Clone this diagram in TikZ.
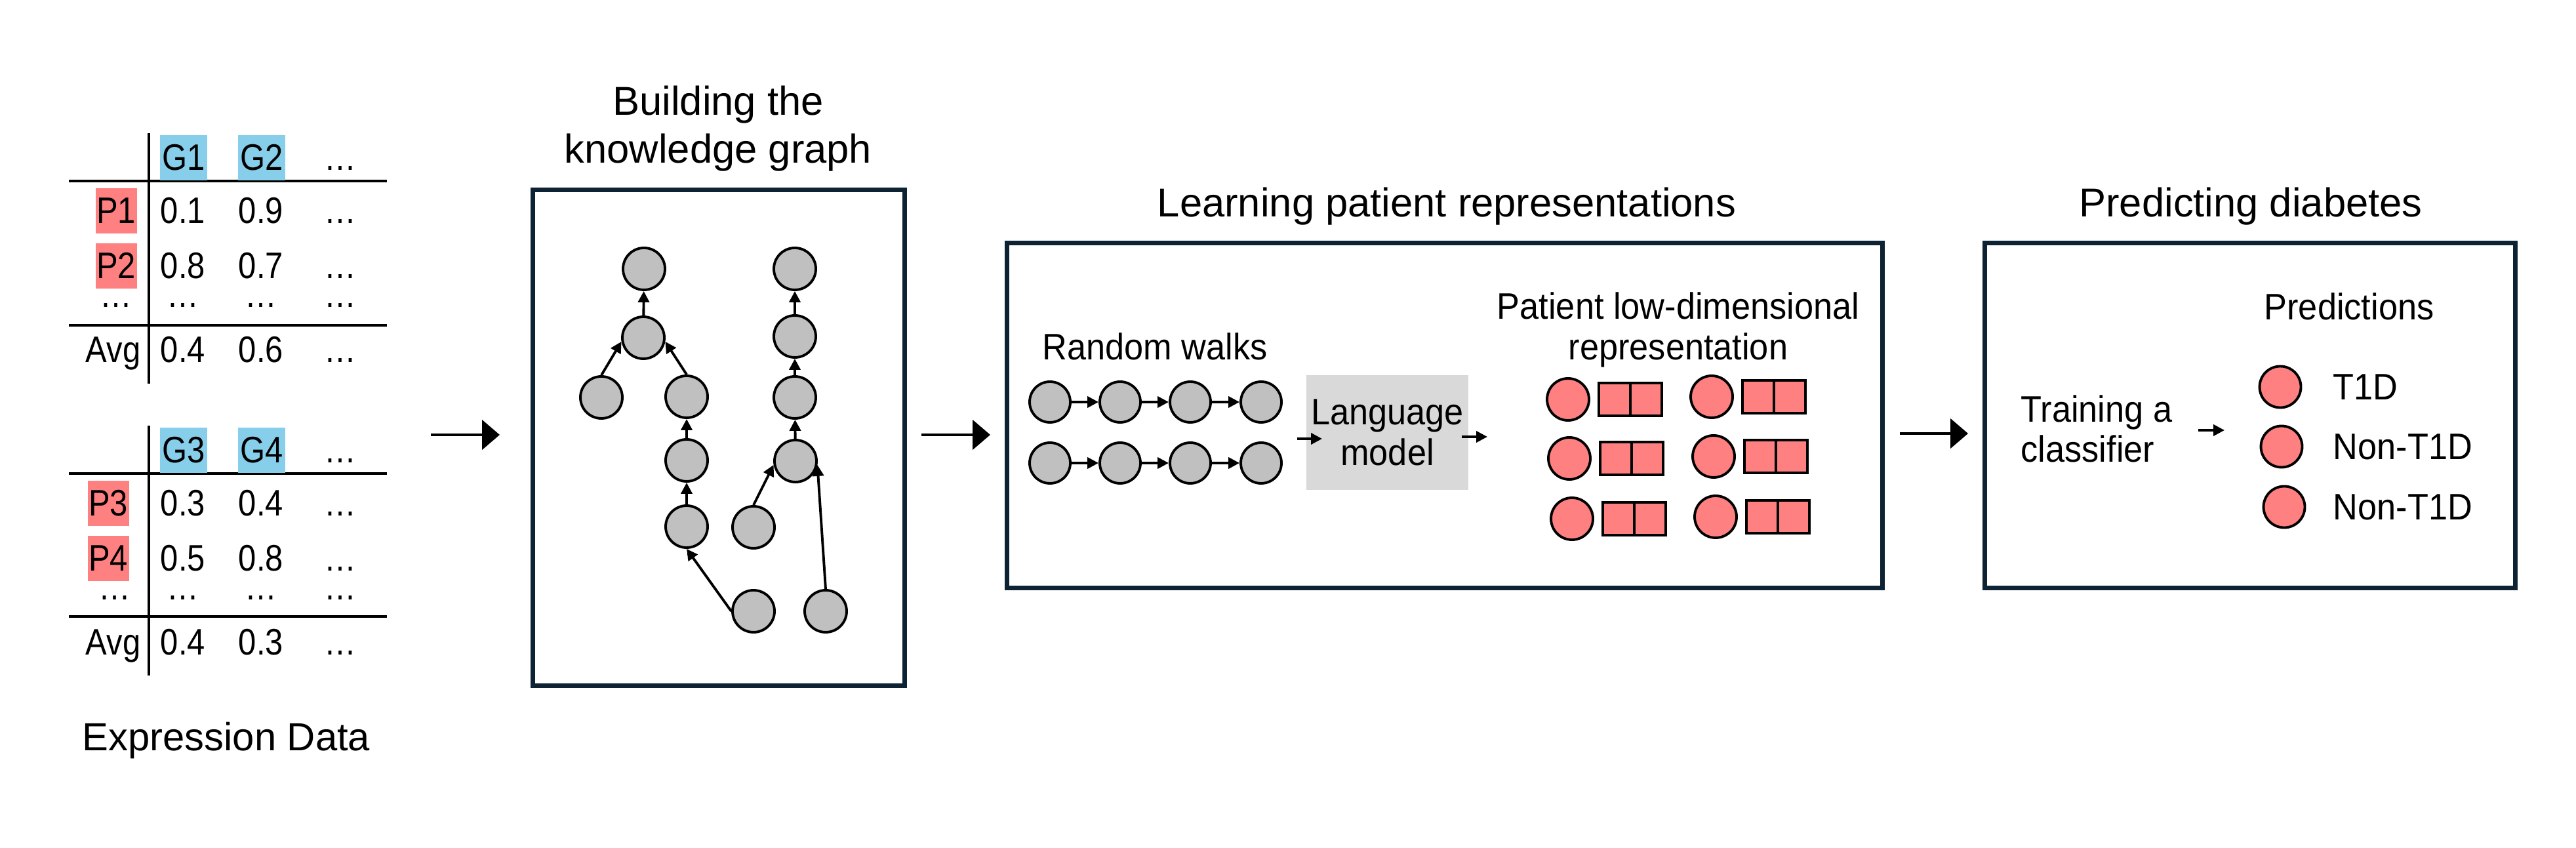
\documentclass[tikz,border=0pt]{standalone}
\usepackage{fontspec}
\setmainfont{Liberation Sans}
\newfontfamily\condfont[FakeStretch=0.93]{Liberation Sans}
\newfontfamily\tabfont[FakeStretch=0.87]{Liberation Sans}
\usetikzlibrary{positioning,arrows.meta}
\definecolor{boxline}{RGB}{13,34,51}
\definecolor{salmon}{RGB}{255,128,128}
\definecolor{genebl}{RGB}{135,206,235}
\definecolor{nodegray}{RGB}{192,192,192}
\definecolor{lmgray}{RGB}{217,217,217}
\tikzset{
  heading/.style={font=\fontsize{17.5}{20.8}\selectfont, align=center, inner sep=0},
  bodytext/.style={font=\condfont\fontsize{16}{17.4}\selectfont, align=center, inner sep=0},
  cell/.style={font=\tabfont\fontsize{16}{18}\selectfont, inner sep=0, anchor=base},
  gene/.style={cell, fill=genebl, minimum width=0.72cm, minimum height=0.69cm},
  patient/.style={cell, fill=salmon, minimum width=0.63cm, minimum height=0.69cm},
  rule/.style={line width=1.1pt},
  stage/.style={draw=boxline, line width=2pt},
  kgdot/.style={circle, draw, line width=1.1pt, fill=nodegray, minimum size=0.64cm, inner sep=0},
  walkdot/.style={kgdot, minimum size=0.62cm},
  repdot/.style={circle, draw, line width=1.1pt, fill=salmon, minimum size=0.64cm, inner sep=0, outer sep=0},
  repsq/.style={draw, line width=1.1pt, fill=salmon, minimum width=0.48cm, minimum height=0.50cm, inner sep=0, outer sep=0},
  preddot/.style={repdot, minimum size=0.63cm},
  lmbox/.style={bodytext, fill=lmgray, minimum width=2.47cm, minimum height=1.75cm},
  edge/.style={line width=1.1pt, -{Triangle[length=0.17cm,width=0.17cm]}},
  bigarrow/.style={line width=1.4pt, -{Triangle[length=0.27cm,width=0.45cm]}}
}
\begin{document}
\begin{tikzpicture}
\useasboundingbox (0,0) rectangle (39.28,12.93);

% expression data, first table
\draw[rule] (2.27,10.90) -- (2.27,7.08);
\draw[rule] (1.05,10.17) -- (5.90,10.17);
\draw[rule] (1.05,7.97) -- (5.90,7.97);
\node[gene] (g1) at (2.80,10.33) {G1};
\node[gene] (g2) at (3.99,10.33) {G2};
\node[cell] (gx1) at (5.19,10.33) {…};
\foreach \n/\y/\a/\b in {1/9.52/0.1/0.9, 2/8.68/0.8/0.7} {
  \node[patient] (p\n) at (1.77,\y) {P\n};
  \node[cell] (p\n a) at (2.79,\y) {\a};
  \node[cell] (p\n b) at (3.98,\y) {\b};
  \node[cell] (p\n x) at (5.19,\y) {…};
}
\foreach \x [count=\i] in {1.77,2.79,3.98,5.19}
  \node[cell] (dt1\i) at (\x,8.24) {…};
\node[cell, anchor=base east] (avg1) at (2.15,7.40) {Avg};
\node[cell] (avg1a) at (2.79,7.40) {0.4};
\node[cell] (avg1b) at (3.98,7.40) {0.6};
\node[cell] (avg1x) at (5.19,7.40) {…};

% expression data, second table
\draw[rule] (2.27,6.44) -- (2.27,2.63);
\draw[rule] (1.05,5.71) -- (5.90,5.71);
\draw[rule] (1.05,3.53) -- (5.90,3.53);
\node[gene] (g3) at (2.80,5.87) {G3};
\node[gene] (g4) at (3.99,5.87) {G4};
\node[cell] (gx2) at (5.19,5.87) {…};
\foreach \n/\y/\a/\b in {3/5.06/0.3/0.4, 4/4.22/0.5/0.8} {
  \node[patient] (p\n) at (1.65,\y) {P\n};
  \node[cell] (p\n a) at (2.79,\y) {\a};
  \node[cell] (p\n b) at (3.98,\y) {\b};
  \node[cell] (p\n x) at (5.19,\y) {…};
}
\foreach \x [count=\i] in {1.75,2.79,3.98,5.19}
  \node[cell] (dt2\i) at (\x,3.78) {…};
\node[cell, anchor=base east] (avg2) at (2.15,2.94) {Avg};
\node[cell] (avg2a) at (2.79,2.94) {0.4};
\node[cell] (avg2b) at (3.98,2.94) {0.3};
\node[cell] (avg2x) at (5.19,2.94) {…};
\node[heading, font=\fontsize{17}{20}\selectfont, anchor=base] (expr) at (3.45,1.48) {Expression Data};

% knowledge graph
\node[heading] (kgtitle) at (10.95,10.97) {Building the\\knowledge graph};
\draw[stage] (8.125,2.475) rectangle (13.795,10.035);
\node[kgdot] (k1) at (9.82,8.83) {};
\node[kgdot] (k2) at (9.81,7.78) {};
\node[kgdot] (k3) at (9.17,6.87) {};
\node[kgdot] (k4) at (10.47,6.88) {};
\node[kgdot] (k5) at (10.47,5.91) {};
\node[kgdot] (k6) at (10.47,4.90) {};
\node[kgdot] (k7) at (11.49,3.61) {};
\node[kgdot] (k8) at (11.49,4.89) {};
\node[kgdot] (k9) at (12.59,3.61) {};
\node[kgdot] (k10) at (12.12,8.83) {};
\node[kgdot] (k11) at (12.12,7.80) {};
\node[kgdot] (k12) at (12.12,6.87) {};
\node[kgdot] (k13) at (12.13,5.90) {};
\draw[edge] (k2) -- (k1);
\draw[edge] (k3.north) -- (k2.190);
\draw[edge] (k4.north) -- (k2.-10);
\draw[edge] (k5) -- (k4);
\draw[edge] (k6) -- (k5);
\draw[edge] (k7.west) -- (k6.south);
\draw[edge] (k11) -- (k10);
\draw[edge] (k12) -- (k11);
\draw[edge] (k13) -- (k12);
\draw[edge] (k8.north) -- (k13.190);
\draw[edge] (k9.north) -- (k13.-10);

% stage arrows
\coordinate (s1a) at (6.57,6.30);
\coordinate (s1b) at (7.62,6.30);
\coordinate (s2a) at (14.05,6.30);
\coordinate (s2b) at (15.10,6.30);
\coordinate (s3a) at (28.97,6.32);
\coordinate (s3b) at (30.01,6.32);
\draw[bigarrow] (s1a) -- (s1b);
\draw[bigarrow] (s2a) -- (s2b);
\draw[bigarrow] (s3a) -- (s3b);

% patient representations
\node[heading, anchor=base] (lptitle) at (22.06,9.62) {Learning patient representations};
\draw[stage] (15.355,3.965) rectangle (28.705,9.225);
\node[bodytext, anchor=base] (rw) at (17.61,7.44) {Random walks};
\foreach \r/\y in {1/6.80, 2/5.87} {
  \foreach \c/\x in {1/16.01, 2/17.08, 3/18.15, 4/19.23}
    \node[walkdot] (w\r\c) at (\x,\y) {};
  \foreach \a/\b in {1/2, 2/3, 3/4}
    \draw[edge] (w\r\a) -- (w\r\b);
}
\node[lmbox] (lm) at (21.155,6.335) {Language\\model};
\coordinate (lmina) at (19.78,6.24);
\coordinate (lminb) at (20.16,6.24);
\coordinate (lmouta) at (22.29,6.27);
\coordinate (lmoutb) at (22.68,6.27);
\draw[edge] (lmina) -- (lminb);
\draw[edge] (lmouta) -- (lmoutb);
\node[bodytext] (rep) at (25.59,7.90) {Patient low-dimensional\\representation};
\foreach \x/\y [count=\i] in {23.91/6.84, 26.10/6.88, 23.93/5.94, 26.13/5.97, 23.97/5.02, 26.16/5.05} {
  \node[repdot] (r\i) at (\x,\y) {};
  \node[repsq, right=0.15cm of r\i] (r\i a) {};
  \node[repsq, right=0pt of r\i a] (r\i b) {};
}

% predicting diabetes
\node[heading, anchor=base] (pdtitle) at (34.32,9.62) {Predicting diabetes};
\draw[stage] (30.265,3.965) rectangle (38.355,9.225);
\node[bodytext, align=left, anchor=west] (train) at (30.81,6.39) {Training a\\classifier};
\coordinate (tra) at (33.52,6.37);
\coordinate (trb) at (33.92,6.37);
\draw[edge] (tra) -- (trb);
\node[bodytext, anchor=base] (predt) at (35.82,8.05) {Predictions};
\foreach \x/\y/\lab [count=\i] in {34.77/7.03/T1D, 34.79/6.12/Non-T1D, 34.83/5.20/Non-T1D} {
  \node[preddot] (c\i) at (\x,\y) {};
  \node[bodytext, anchor=west] (cl\i) at (35.57,\y) {\lab};
}
\end{tikzpicture}
\end{document}
